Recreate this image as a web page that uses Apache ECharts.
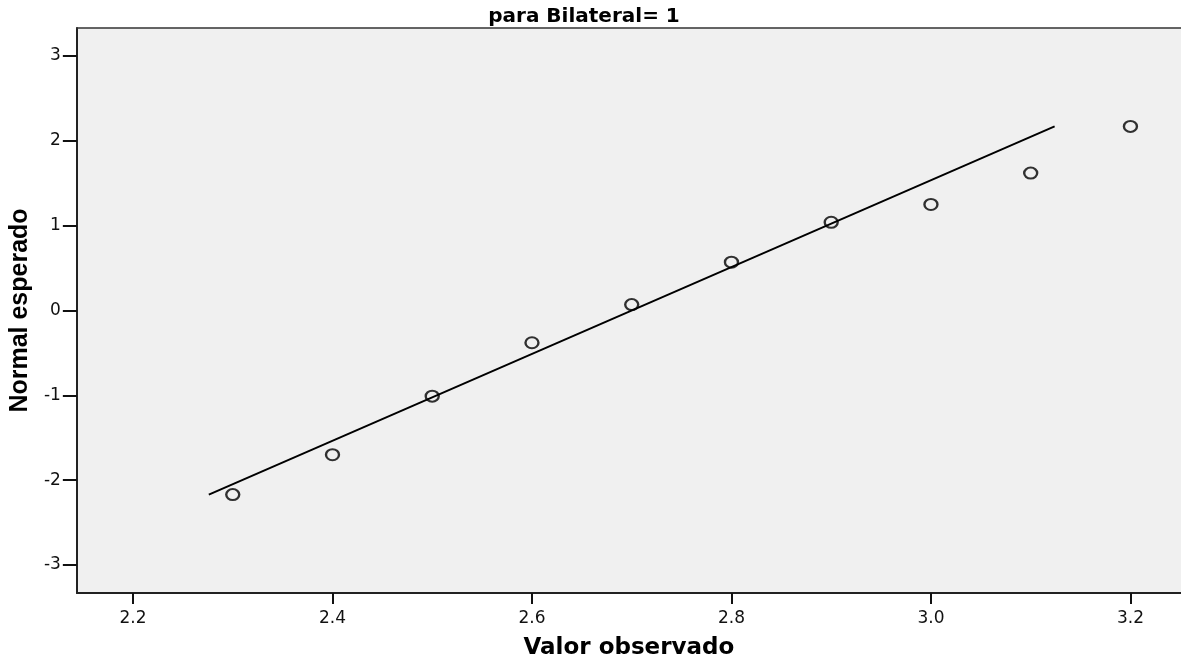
<!DOCTYPE html>
<html>
<head>
<meta charset="utf-8">
<script src="https://cdn.jsdelivr.net/npm/echarts@6/dist/echarts.min.js"></script>
<style>
html,body{margin:0;padding:0;background:#fff;}
#chart{width:1181px;height:672px;}
</style>
</head>
<body>
<div id="chart"></div>
<script>
// Data
const chartTitle = 'para Bilateral= 1';
const xAxisTitle = 'Valor observado';
const yAxisTitle = 'Normal esperado';
const observedValues = [2.3, 2.4, 2.5, 2.6, 2.7, 2.8, 2.9, 3.0, 3.1, 3.2];
const expectedNormal = [-2.17, -1.70, -1.01, -0.38, 0.07, 0.57, 1.04, 1.25, 1.62, 2.17];
const refLineX = [2.276, 3.124];
const refLineY = [-2.17, 2.17];
const xTickValues = [2.2, 2.4, 2.6, 2.8, 3.0, 3.2];
const yTickValues = [-3, -2, -1, 0, 1, 2, 3];
const xRange = [2.1437, 3.2507];
const yRange = [-3.33, 3.33];

const points = observedValues.map((v, i) => [v, expectedNormal[i]]);
const linePts = refLineX.map((v, i) => [v, refLineY[i]]);

const chart = echarts.init(document.getElementById('chart'), null, {renderer: 'canvas'});
chart.setOption({
  animation: false,
  backgroundColor: '#ffffff',
  grid: {
    left: 76, right: -2, top: 28, bottom: 79,
    show: true, backgroundColor: '#f0f0f0',
    borderWidth: 0
  },
  graphic: [{
    type: 'text', x: 584, y: 17,
    style: {
      text: chartTitle, textAlign: 'center', textVerticalAlign: 'middle',
      font: 'bold 20px "DejaVu Sans"', fill: '#000'
    }
  }],
  xAxis: [{
    type: 'value', min: xRange[0], max: xRange[1],
    name: xAxisTitle, nameLocation: 'middle', nameGap: 44,
    nameTextStyle: {fontFamily: 'DejaVu Sans', fontWeight: 'bold', fontSize: 23, color: '#000'},
    axisLine: {show: true, onZero: false, lineStyle: {color: '#222', width: 2}},
    axisTick: {show: true, inside: false, length: 11, customValues: xTickValues, lineStyle: {color: '#111', width: 2}},
    axisLabel: {
      show: true, margin: 17, customValues: xTickValues,
      fontFamily: 'DejaVu Sans', fontSize: 17, color: '#111',
      formatter: v => Number(v).toFixed(1)
    },
    splitLine: {show: false}
  }, {
    type: 'value', position: 'top', min: xRange[0], max: xRange[1],
    axisLine: {show: true, onZero: false, lineStyle: {color: '#333', width: 1.5}},
    axisTick: {show: false}, axisLabel: {show: false}, splitLine: {show: false}
  }],
  yAxis: {
    type: 'value', min: yRange[0], max: yRange[1],
    name: yAxisTitle, nameLocation: 'middle', nameGap: 40, nameRotate: 90,
    nameTextStyle: {fontFamily: 'Liberation Sans', fontWeight: 'bold', fontSize: 25, color: '#000'},
    axisLine: {show: true, onZero: false, lineStyle: {color: '#222', width: 2}},
    axisTick: {show: true, inside: false, length: 14, customValues: yTickValues, lineStyle: {color: '#111', width: 2}},
    axisLabel: {
      show: true, margin: 16, customValues: yTickValues,
      fontFamily: 'DejaVu Sans', fontSize: 17, color: '#111',
      formatter: v => String(Math.round(v))
    },
    splitLine: {show: false}
  },
  series: [
    {
      type: 'line', data: linePts, symbol: 'none', xAxisIndex: 0,
      lineStyle: {color: '#000', width: 2}, z: 2, silent: true
    },
    {
      type: 'scatter', data: points, symbol: 'circle', symbolSize: [13, 11], xAxisIndex: 0,
      itemStyle: {color: 'rgba(0,0,0,0)', borderColor: '#000', borderWidth: 2.2},
      z: 3, silent: true
    }
  ]
});
</script>
</body>
</html>
